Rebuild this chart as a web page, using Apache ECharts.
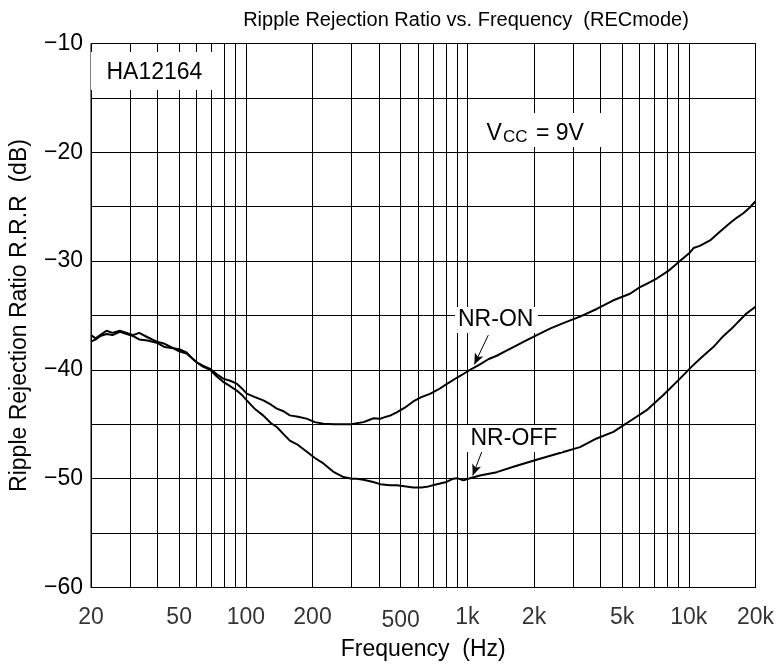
<!DOCTYPE html>
<html><head><meta charset="utf-8">
<script src="https://cdn.jsdelivr.net/npm/echarts@6/dist/echarts.min.js"></script>
<style>html,body{margin:0;padding:0;background:#fff}#c{width:780px;height:668px}</style>
</head><body><div id="c"></div>
<script>
// ---- data ----
const freqOn = [20,21,22,23.5,25,27,29,31,33,36,39.6,43,47,50,54,57,60,64,69,74,79,85,91,96,101,110,120,130,138,148,158,172,188,205,224,250,276,300,317,340,360,376,404,430,448,480,520,570,620,678,740,806,900,1010,1140,1250,1358,1480,1614,1800,2018,2361,2710,3226,3838,4564,5424,6020,6452,7163,8080,9120,10120,10500,11200,12470,13800,15350,16500,17620,18800,20000];
const valOn = [-37.4,-37.2,-36.9,-36.7,-36.8,-36.5,-36.7,-36.9,-37.2,-37.3,-37.5,-37.9,-38.0,-38.3,-38.5,-38.9,-39.3,-39.6,-39.9,-40.4,-40.8,-41.0,-41.26,-41.7,-42.18,-42.5,-42.8,-43.2,-43.56,-43.8,-44.18,-44.3,-44.48,-44.8,-44.94,-45.0,-45.0,-45.0,-44.9,-44.8,-44.6,-44.45,-44.5,-44.3,-44.2,-43.9,-43.5,-42.9,-42.5,-42.2,-41.8,-41.3,-40.7,-40.1,-39.5,-39.0,-38.7,-38.3,-37.9,-37.4,-36.9,-36.2,-35.7,-35.1,-34.4,-33.6,-33.0,-32.4,-32.1,-31.6,-30.9,-30.0,-29.2,-28.8,-28.6,-28.1,-27.3,-26.5,-26.0,-25.6,-25.1,-24.5];
const freqOff = [20,21,22,23.5,25,27,29,31,33,36,39.6,43,47,50,54,57,60,64,69,74,79,85,91,96,101,110,120,130,138,148,158,172,188,205,224,250,276,300,317,340,376,404,448,480,520,570,620,656,700,752,806,864,900,960,1010,1140,1358,1614,2018,2710,3226,3838,4564,5243,6452,7674,9120,10300,11500,12900,14300,15880,18240,20000];
const valOff = [-36.8,-37.1,-36.8,-36.4,-36.6,-36.4,-36.6,-36.8,-36.6,-37.0,-37.4,-37.6,-38.0,-38.1,-38.4,-38.9,-39.3,-39.7,-40.0,-40.6,-41.1,-41.5,-41.9,-42.3,-42.8,-43.6,-44.2,-44.9,-45.25,-45.9,-46.5,-46.9,-47.5,-48.1,-48.6,-49.4,-49.85,-50.0,-50.0,-50.1,-50.3,-50.5,-50.6,-50.6,-50.7,-50.8,-50.8,-50.75,-50.6,-50.45,-50.3,-50.0,-49.95,-50.15,-50.0,-49.7,-49.4,-48.9,-48.3,-47.55,-47.1,-46.3,-45.7,-44.9,-43.7,-42.3,-40.8,-39.7,-38.8,-37.9,-36.9,-36.05,-34.8,-34.2];
const xTickValues = [20,50,100,200,500,1000,2000,5000,10000,20000];
const xTickLabels = ['20','50','100','200','500','1k','2k','5k','10k','20k'];
const xGridValues = [30,40,50,60,70,80,90,100,200,300,400,500,600,700,800,900,1000,2000,3000,4000,5000,6000,7000,8000,9000,10000];
const yMin = -60, yMax = -10, yStep = 5;
const arrowOn = [[1244,-36.8],[1076,-39.5]];
const arrowOff = [[1161,-47.55],[1058,-49.7]];

// ---- chart ----
const FONT = '"Liberation Sans", Arial, Helvetica, sans-serif';
const chart = echarts.init(document.getElementById('c'), null, {renderer:'canvas'});
const zip = (f, v) => f.map((x, i) => [x, v[i]]);
const box = (x, y, w, h) => ({type:'rect', z:100, shape:{x, y, width:w, height:h}, style:{fill:'#fff'}});
const txt = (x, y, t, size, align) => ({type:'text', z:101, x, y, style:{text:t, fill:'#000', font: size + 'px ' + FONT, align: align || 'left', verticalAlign:'middle'}});

chart.setOption({
  animation:false,
  backgroundColor:'#fff',
  grid:{left:90.5, right:24.5, top:43.5, bottom:80.5, show:true, borderColor:'#000', borderWidth:1, backgroundColor:'#fff'},
  xAxis:{type:'log', logBase:10, min:20, max:20000,
    name:'Frequency  (Hz)', nameLocation:'middle', nameGap:51,
    nameTextStyle:{fontFamily:FONT, fontSize:23, color:'#000'},
    axisLine:{show:true, lineStyle:{color:'#000', width:1}},
    axisTick:{show:false}, axisLabel:{show:false}, splitLine:{show:false}, minorTick:{show:false}},
  yAxis:{type:'value', min:yMin, max:yMax, interval:yStep,
    name:'Ripple Rejection Ratio R.R.R  (dB)', nameLocation:'middle', nameRotate:90, nameGap:60,
    nameTextStyle:{fontFamily:FONT, fontSize:23, color:'#000'},
    axisLine:{show:true, lineStyle:{color:'#000', width:1}},
    axisTick:{show:false},
    axisLabel:{fontFamily:FONT, fontSize:23, color:'#000', margin:8,
      formatter: v => (v % 10 === 0 ? '\u2212' + Math.abs(v) : '')},
    splitLine:{show:true, lineStyle:{color:'#000', width:1}}},
  series:[
    {type:'line', name:'grid', data:[], z:2, silent:true,
      markLine:{silent:true, symbol:['none','none'], label:{show:false}, animation:false,
        lineStyle:{color:'#000', width:1, type:'solid'},
        data: xGridValues.map(v => ({xAxis:v}))}},
    {type:'line', name:'NR-ON', data:zip(freqOn, valOn), showSymbol:false, symbol:'none', z:5,
      lineStyle:{color:'#000', width:2}},
    {type:'line', name:'NR-OFF', data:zip(freqOff, valOff), showSymbol:false, symbol:'none', z:5,
      lineStyle:{color:'#000', width:2}},
    {type:'scatter', name:'ticks', data:xTickValues.map(v => [v, yMin]), symbolSize:0, clip:false, silent:true, z:6,
      label:{show:true, position:'bottom', distance:19, fontFamily:FONT, fontSize:23, color:'#000',
        formatter: p => (xTickLabels[p.dataIndex] === '500' ? '{low|500}' : xTickLabels[p.dataIndex]),
        rich:{low:{fontFamily:FONT, fontSize:23, color:'#000', padding:[3,0,0,0]}}}},
    {type:'line', name:'arrows', data:[], z:6, silent:true,
      markLine:{silent:true, symbol:['none','arrow'], symbolSize:[7,11], label:{show:false}, animation:false,
        lineStyle:{color:'#000', width:1, type:'solid'},
        data:[
          [{coord:arrowOn[0]},{coord:arrowOn[1]}],
          [{coord:arrowOff[0]},{coord:arrowOff[1]}]
        ]}}
  ],
  graphic:[
    txt(466, 20, 'Ripple Rejection Ratio vs. Frequency  (RECmode)', 20, 'center'),
    box(91, 52, 127, 38), txt(106.5, 72.5, 'HA12164', 23),
    box(485, 113, 117, 34), txt(486.5, 134, 'V', 23), txt(503, 137.5, 'CC', 17), txt(536, 134, '= 9V', 23),
    box(455, 307, 83, 26), txt(458, 320, 'NR-ON', 23),
    box(466, 425, 96, 27), txt(470.5, 438.5, 'NR-OFF', 23)
  ]
});
</script></body></html>
